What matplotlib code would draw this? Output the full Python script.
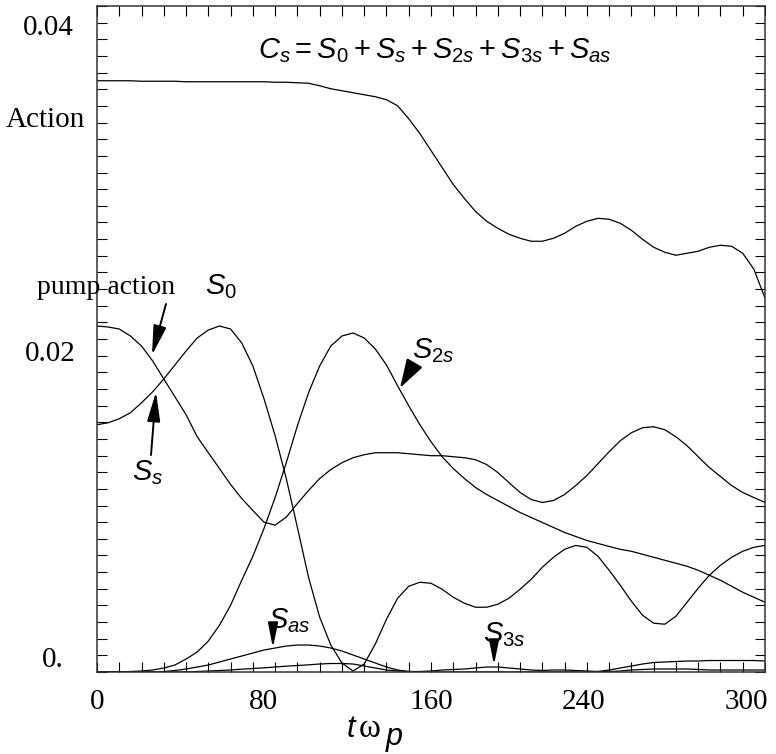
import numpy as np
import matplotlib
matplotlib.use("Agg")
import matplotlib.pyplot as plt

# time axis (t * omega_p), read every 5 units
t = np.arange(0, 301, 5)

# actions, in units of 1e-3
cs = [35.51, 35.51, 35.51, 35.51, 35.48, 35.48, 35.48, 35.48, 35.45, 35.45,
      35.45, 35.45, 35.45, 35.45, 35.45, 35.45, 35.42, 35.42, 35.39, 35.36,
      35.21, 35.03, 34.91, 34.79, 34.67, 34.55, 34.37, 34.01, 33.23, 32.34,
      31.32, 30.30, 29.28, 28.44, 27.66, 27.07, 26.65, 26.29, 26.05, 25.87,
      25.87, 26.05, 26.35, 26.77, 27.07, 27.25, 27.19, 26.95, 26.53, 25.99,
      25.51, 25.21, 25.03, 25.15, 25.27, 25.51, 25.63, 25.57, 25.15, 24.19,
      22.46]
s0 = [20.78, 20.72, 20.60, 20.18, 19.58, 18.68, 17.60, 16.53, 15.45, 14.13,
      13.17, 12.22, 11.26, 10.42, 9.70, 9.00, 8.82, 9.30, 10.12, 10.90,
      11.62, 12.16, 12.57, 12.87, 13.05, 13.17, 13.17, 13.17, 13.11, 13.05,
      12.99, 12.99, 12.93, 12.87, 12.75, 12.46, 11.98, 11.38, 10.78, 10.36,
      10.18, 10.30, 10.66, 11.20, 11.80, 12.51, 13.23, 13.89, 14.37, 14.67,
      14.73, 14.55, 14.13, 13.59, 12.93, 12.28, 11.74, 11.20, 10.78, 10.48,
      10.18]
ss = [14.85, 14.97, 15.21, 15.57, 16.17, 16.83, 17.60, 18.44, 19.28, 20.06,
      20.54, 20.78, 20.60, 19.76, 18.38, 16.41, 14.19, 11.62, 8.68, 5.69,
      3.29, 1.62, 0.54, 0.06, 0.48, 1.68, 3.17, 4.43, 5.15, 5.39,
      5.33, 4.97, 4.49, 4.13, 3.89, 3.89, 4.07, 4.43, 4.97, 5.57,
      6.29, 6.89, 7.37, 7.60, 7.49, 6.95, 6.11, 5.21, 4.25, 3.41,
      2.93, 2.87, 3.35, 4.19, 5.03, 5.81, 6.41, 6.89, 7.25, 7.49,
      7.60]
s2s = [0.0, 0.0, 0.0, 0.03, 0.06, 0.12, 0.24, 0.42, 0.78, 1.20,
       1.86, 2.81, 4.01, 5.51, 6.95, 8.62, 10.48, 12.57, 14.79, 16.77,
       18.38, 19.58, 20.18, 20.36, 20.06, 19.40, 18.44, 17.19, 15.99, 14.85,
       13.83, 12.93, 12.22, 11.62, 11.08, 10.66, 10.30, 9.94, 9.58, 9.28,
       8.98, 8.68, 8.38, 8.14, 7.90, 7.72, 7.54, 7.37, 7.25, 7.07,
       6.89, 6.71, 6.53, 6.35, 6.11, 5.81, 5.51, 5.15, 4.79, 4.49,
       4.19]
sas = [0.0, 0.0, 0.0, 0.0, 0.0, 0.0, 0.03, 0.09, 0.18, 0.30,
       0.42, 0.60, 0.78, 0.96, 1.14, 1.32, 1.44, 1.56, 1.62, 1.62,
       1.56, 1.44, 1.26, 1.02, 0.78, 0.54, 0.30, 0.12, 0.03, 0.0,
       0.0, 0.0, 0.0, 0.0, 0.0, 0.0, 0.0, 0.0, 0.0, 0.0,
       0.0, 0.0, 0.0, 0.0, 0.0, 0.03, 0.12, 0.24, 0.36, 0.48,
       0.57, 0.60, 0.63, 0.66, 0.66, 0.69, 0.69, 0.69, 0.69, 0.69,
       0.66]
s3s = [0.0, 0.0, 0.0, 0.0, 0.0, 0.0, 0.0, 0.0, 0.01, 0.03,
       0.06, 0.09, 0.12, 0.17, 0.21, 0.25, 0.30, 0.35, 0.39, 0.43,
       0.48, 0.51, 0.51, 0.48, 0.36, 0.24, 0.12, 0.06, 0.03, 0.03,
       0.06, 0.12, 0.15, 0.18, 0.24, 0.30, 0.30, 0.24, 0.18, 0.12,
       0.09, 0.12, 0.12, 0.09, 0.06, 0.03, 0.03, 0.06, 0.12, 0.15,
       0.18, 0.18, 0.18, 0.18, 0.15, 0.12, 0.12, 0.12, 0.12, 0.12,
       0.12]

xTickLabels = ["0", "80", "160", "240", "300"]
yTickLabels = ["0.04", "0.02", "0."]

W, H = 776, 754
plt.rcParams["font.family"] = ["Liberation Serif", "DejaVu Serif"]
plt.rcParams["mathtext.fontset"] = "custom"
plt.rcParams["mathtext.it"] = "Liberation Sans:italic"
plt.rcParams["mathtext.rm"] = "Liberation Sans"


def figText(fig, x, y, s, **kw):
    # x, y in pixels from the top-left corner
    fig.text(x / W, 1 - y / H, s, **kw)


def main():
    fig = plt.figure(figsize=(W / 100, H / 100), dpi=100)
    ax = fig.add_axes([97 / W, 1 - 672 / H, 668 / W, 666 / H])

    for series in [cs, s0, ss, s2s, sas, s3s]:
        ax.plot(t, np.array(series) * 1e-3, color="black", lw=0.9)

    ax.set_xlim(0, 300)
    ax.set_ylim(0, 0.04)
    ax.set_xticks(np.arange(0, 301, 10))
    ax.set_yticks(np.arange(0, 0.0401, 0.001))
    ax.tick_params(direction="in", length=7, width=0.8, top=True, right=True,
                   labelbottom=False, labelleft=False)
    for sp in ax.spines.values():
        sp.set_linewidth(1.1)
        sp.set_color("#333333")

    # tick labels, placed as in the original figure
    for lab, x in zip(xTickLabels, [97, 263, 431, 584, 746]):
        figText(fig, x, 702, lab, ha="center", va="center", fontsize=21)
    for lab, (x, y) in zip(yTickLabels, [(48, 28), (50, 354), (53, 660)]):
        figText(fig, x, y, lab, ha="center", va="center", fontsize=21)
    figText(fig, 45, 120, "Action", ha="center", va="center", fontsize=21)

    # x axis label  t omega_p
    figText(fig, 346, 737, r"$\mathit{t}$", ha="left", va="baseline", fontsize=22)
    figText(fig, 359, 737, "\u03c9", ha="left", va="baseline", fontsize=24)
    figText(fig, 385, 745, r"$\mathit{p}$", ha="left", va="baseline", fontsize=22)

    figText(fig, 258, 58, r"$\mathit{C_s = S_0 + S_s + S_{2s} + S_{3s} + S_{as}}$",
            ha="left", va="baseline", fontsize=21)

    figText(fig, 37, 294, "pump action", ha="left", va="baseline", fontsize=20)
    figText(fig, 205, 294, r"$\mathit{S_0}$", ha="left", va="baseline", fontsize=21)
    figText(fig, 132, 480, r"$\mathit{S_s}$", ha="left", va="baseline", fontsize=21)
    figText(fig, 412, 358, r"$\mathit{S_{2s}}$", ha="left", va="baseline", fontsize=21)
    figText(fig, 268, 628, r"$\mathit{S_{as}}$", ha="left", va="baseline", fontsize=21)
    figText(fig, 483, 642, r"$\mathit{S_{3s}}$", ha="left", va="baseline", fontsize=21)

    # arrows: tip on the curve (data), tail in figure pixels
    arrows = [((24.7, 0.01904), (166, 304), 0.9, 0.2),
              ((26.5, 0.01682), (151, 455), 0.9, 0.2),
              ((136.1, 0.01706), (414, 364), 0.9, 0.28),
              ((79.0, 0.00144), (273, 632), 0.75, 0.15),
              ((178.3, 0.00042), (494, 646), 0.75, 0.15)]
    for tip, tail, hl, hw in arrows:
        ax.annotate("", xy=tip, xycoords="data",
                    xytext=(tail[0], H - tail[1]), textcoords="figure pixels",
                    arrowprops=dict(arrowstyle="-|>,head_length=%s,head_width=%s" % (hl, hw),
                                    color="black", lw=1.4, mutation_scale=20,
                                    shrinkA=0, shrinkB=0))

    fig.savefig("out.png", dpi=100)


main()
